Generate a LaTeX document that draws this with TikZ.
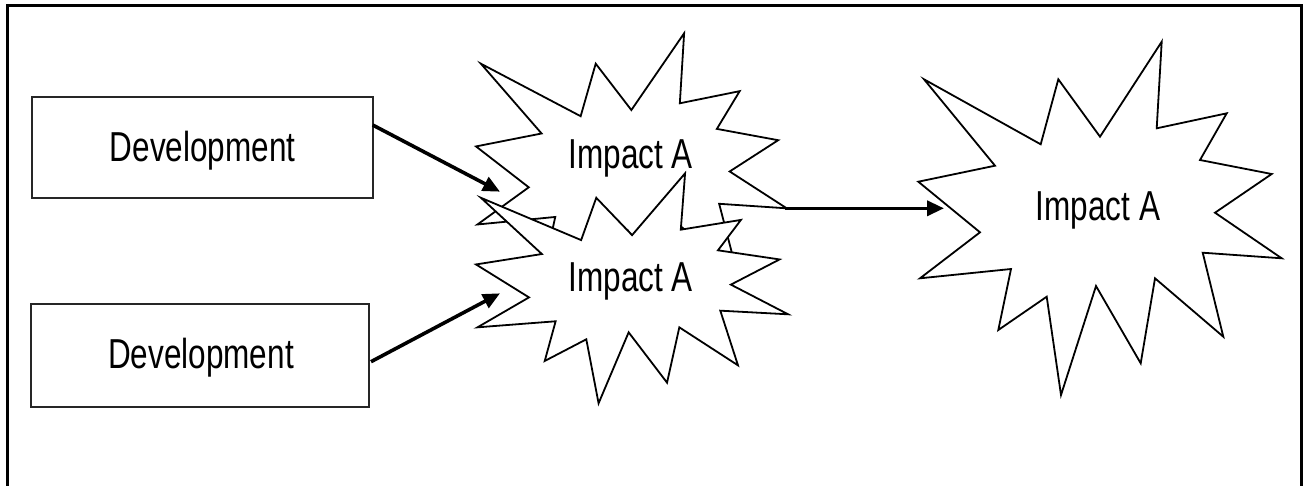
\documentclass[tikz,border=0pt]{standalone}
\usepackage{fontspec}
\setmainfont{Liberation Sans}
\usetikzlibrary{arrows.meta}
\newcommand{\burstpath}{(1161.7,41.7) -- (1156.7,128.3) -- (1226.7,113.3) -- (1200,160) -- (1271.7,174) -- (1215,212.7) -- (1281.7,258.3) -- (1202.7,252.7) -- (1223.3,336.7) -- (1155,278.3) -- (1140.7,363.3) -- (1096,286) -- (1061,395) -- (1046.7,296.7) -- (998.3,330) -- (1011,269) -- (920,278.3) -- (980,232.3) -- (918.3,181.7) -- (995,165.7) -- (924,79.3) -- (1040.7,144.3) -- (1058.3,79.3) -- (1100,136.7) -- cycle}
\tikzset{
  burst/.style={draw=black, fill=white, line width=1.8pt, line join=miter},
  devbox/.style={draw=black!85, line width=2pt, fill=white},
  lbl/.style={inner sep=0pt, anchor=base, font=\fontsize{31.5}{36}\selectfont},
  conn/.style={line width=3.6pt, -{Triangle[length=17pt,width=15pt]}},
  frame/.style={line width=3pt}
}
\newcommand{\tall}[1]{\scalebox{1}[1.33]{#1}}
\begin{document}
\begin{tikzpicture}[x=1pt,y=-1pt]
\useasboundingbox (0,0) rectangle (1308,485);
% frame (open at bottom)
\coordinate (fbl) at (7,486);
\coordinate (ftl) at (7,5);
\coordinate (ftr) at (1301,5);
\coordinate (fbr) at (1301,486);
\draw[frame] (fbl) -- (ftl) -- (ftr) -- (fbr);
% development boxes
\draw[devbox] (32.3,97.3) rectangle (372.7,197.7);
\draw[devbox] (31,304.3) rectangle (369.3,407.3);
\node[lbl] (d1) at (202.7,161.7) {\tall{Development}};
\node[lbl] (d2) at (201,368.3) {\tall{Development}};
% bursts
\begin{scope}[shift={(476,33.3)}, xscale=0.855, yscale=0.808, shift={(-918.3,-41.7)}]
  \draw[burst] \burstpath;
\end{scope}
\begin{scope}[shift={(476,173.3)}, xscale=0.859, yscale=0.651, shift={(-918.3,-41.7)}]
  \draw[burst] \burstpath;
\end{scope}
\draw[burst] \burstpath;
\node[lbl] (i1) at (630.7,168.3) {\tall{Impact A}};
\node[lbl] (i2) at (630.7,291.7) {\tall{Impact A}};
\node[lbl] (i3) at (1098,220) {\tall{Impact A}};
% connectors
\coordinate (a1s) at (372.7,125);
\coordinate (a1e) at (500,191.7);
\coordinate (a2s) at (371,361.7);
\coordinate (a2e) at (500,293.3);
\coordinate (a3s) at (785,208.3);
\coordinate (a3e) at (944,208.3);
\draw[conn] (a1s) -- (a1e);
\draw[conn] (a2s) -- (a2e);
\draw[conn] (a3s) -- (a3e);
\end{tikzpicture}
\end{document}
